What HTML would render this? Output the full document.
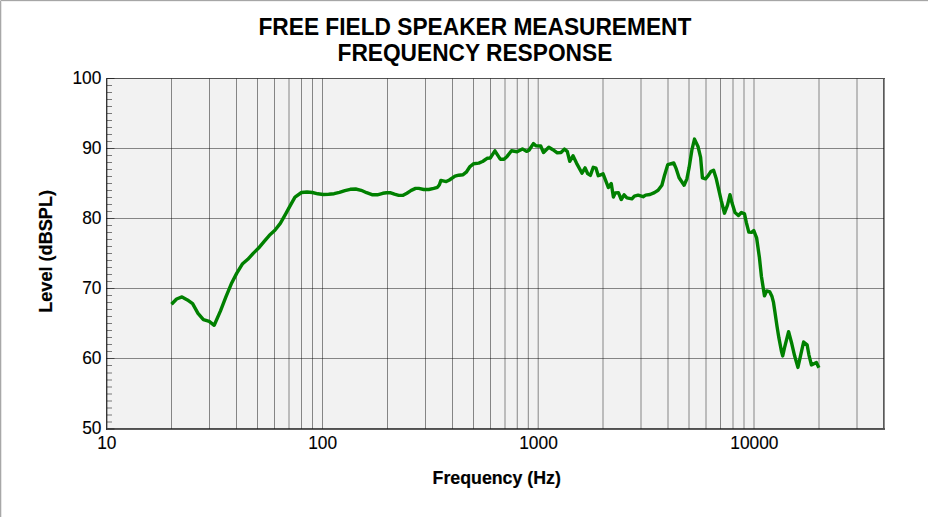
<!DOCTYPE html>
<html><head><meta charset="utf-8"><title>Free Field Speaker Measurement</title>
<style>
html,body{margin:0;padding:0;background:#fff;}
body{width:928px;height:517px;overflow:hidden;position:relative;font-family:"Liberation Sans",Arial,sans-serif;}
svg{position:absolute;left:0;top:0;display:block;}
text{font-family:"Liberation Sans",Arial,sans-serif;fill:#000;}
.t{font-weight:bold;font-size:22.67px;text-anchor:middle;}
.a{font-weight:bold;font-size:17.33px;text-anchor:middle;}
.n{font-size:17.33px;}
</style></head><body>
<svg width="928" height="517" viewBox="0 0 928 517">
<rect x="0" y="0" width="928" height="517" fill="#ffffff"/>
<rect x="0" y="0" width="928" height="1" fill="#a6a6a6"/>
<rect x="0" y="0" width="1" height="517" fill="#a8a8a8"/>
<rect x="0" y="0" width="1" height="1" fill="#d0d0d0"/>
<rect x="1" y="1" width="927" height="1" fill="#f1f1f1"/>
<rect x="1" y="1" width="1" height="516" fill="#e6e6e6"/>
<rect x="106" y="78" width="778" height="351" fill="#f2f2f2"/>
<path d="M171.50 78.50V428.80M209.50 78.50V428.80M236.50 78.50V428.80M257.50 78.50V428.80M274.50 78.50V428.80M289.00 78.50V428.80M301.50 78.50V428.80M312.50 78.50V428.80M322.50 78.50V428.80M387.50 78.50V428.80M425.50 78.50V428.80M452.50 78.50V428.80M473.50 78.50V428.80M490.50 78.50V428.80M505.00 78.50V428.80M517.25 78.50V428.80M528.30 78.50V428.80M538.20 78.50V428.80M603.00 78.50V428.80M641.00 78.50V428.80M668.00 78.50V428.80M689.00 78.50V428.80M706.00 78.50V428.80M720.50 78.50V428.80M733.00 78.50V428.80M744.00 78.50V428.80M754.00 78.50V428.80M819.00 78.50V428.80M857.00 78.50V428.80M106.50 148.50H884.00M106.50 218.50H884.00M106.50 288.50H884.00M106.50 358.50H884.00" stroke="#000" stroke-opacity="0.45" stroke-width="1" fill="none"/>
<path d="M107.00 422.00h5M107.00 415.00h5M107.00 408.00h5M107.00 401.00h5M107.00 394.00h5M107.00 387.00h5M107.00 380.00h5M107.00 373.00h5M107.00 365.50h5M107.00 351.50h5M107.00 344.50h5M107.00 337.50h5M107.00 330.50h5M107.00 323.50h5M107.00 316.50h5M107.00 309.50h5M107.00 302.50h5M107.00 295.50h5M107.00 281.50h5M107.00 274.50h5M107.00 267.50h5M107.00 260.50h5M107.00 253.50h5M107.00 246.50h5M107.00 239.50h5M107.00 232.50h5M107.00 225.50h5M107.00 211.50h5M107.00 204.50h5M107.00 197.50h5M107.00 190.50h5M107.00 183.50h5M107.00 176.50h5M107.00 169.50h5M107.00 162.50h5M107.00 155.50h5M107.00 141.50h5M107.00 134.50h5M107.00 127.50h5M107.00 120.50h5M107.00 113.50h5M107.00 106.50h5M107.00 99.50h5M107.00 92.50h5M107.00 85.50h5" stroke="#000" stroke-opacity="0.5" stroke-width="1" fill="none"/>
<path d="M106.50 429.00h8M106.50 358.50h8M106.50 288.50h8M106.50 218.50h8M106.50 148.50h8M106.50 78.50h8" stroke="#000" stroke-opacity="0.5" stroke-width="1" fill="none"/>
<rect x="106" y="78" width="779" height="1" fill="#000" fill-opacity="0.66"/>
<rect x="106" y="79" width="1" height="351" fill="#000" fill-opacity="0.78"/>
<rect x="107" y="79" width="1" height="349" fill="#000" fill-opacity="0.3"/>
<rect x="107" y="428" width="778" height="1" fill="#000" fill-opacity="0.67"/>
<rect x="107" y="429" width="778" height="1" fill="#000" fill-opacity="0.64"/>
<rect x="883" y="79" width="1" height="349" fill="#000" fill-opacity="0.63"/>
<rect x="884" y="79" width="1" height="349" fill="#000" fill-opacity="0.45"/>
<path d="M171.50 304.30 L176.60 299.00 L182.00 296.90 L187.40 299.90 L192.60 303.70 L198.00 313.40 L203.40 319.70 L209.20 321.30 L214.20 325.30 L220.50 310.90 L225.80 297.20 L231.30 283.80 L236.80 273.10 L242.30 264.05 L247.80 259.30 L253.20 253.40 L258.60 248.05 L264.00 241.55 L269.40 235.30 L274.90 230.30 L280.30 223.40 L285.70 213.90 L290.90 204.40 L295.00 197.20 L301.50 192.50 L307.00 192.00 L312.40 192.50 L317.80 193.80 L323.20 194.50 L328.60 194.20 L334.10 193.70 L339.50 192.30 L344.90 190.60 L350.30 189.30 L355.70 189.00 L361.15 190.30 L366.60 192.70 L372.00 194.70 L377.40 194.80 L382.80 193.30 L386.50 192.70 L390.00 192.60 L394.40 194.20 L398.75 195.40 L403.10 195.30 L406.90 193.20 L411.25 190.40 L415.60 188.40 L418.75 188.40 L423.75 189.50 L428.75 189.50 L433.75 188.40 L437.50 187.30 L439.40 184.80 L440.90 180.40 L446.25 181.55 L449.40 180.00 L455.00 176.20 L458.75 175.20 L463.10 174.70 L466.25 172.20 L470.00 166.55 L473.75 163.70 L478.75 163.10 L482.50 161.55 L484.00 160.50 L487.10 158.30 L490.25 158.00 L494.90 150.80 L500.25 159.20 L504.00 159.20 L507.10 156.40 L511.50 150.80 L517.10 151.70 L522.40 148.90 L526.50 151.40 L529.00 150.20 L533.40 143.60 L535.90 145.80 L540.70 146.00 L543.50 152.55 L548.80 147.20 L552.90 149.70 L557.25 152.90 L561.00 152.55 L564.40 149.10 L567.25 151.30 L569.75 161.30 L573.00 155.80 L576.50 163.10 L582.00 173.20 L585.10 167.90 L587.60 173.55 L590.40 175.40 L593.25 167.30 L596.00 168.20 L598.25 175.70 L600.00 175.10 L603.10 173.80 L608.40 187.60 L611.25 183.55 L613.40 197.00 L615.30 192.90 L618.40 192.60 L621.25 199.50 L624.10 194.80 L626.90 197.90 L631.90 198.90 L634.40 196.05 L638.10 195.10 L643.10 196.70 L645.60 195.10 L650.00 194.50 L654.40 192.60 L658.10 190.30 L661.90 185.20 L664.40 175.80 L667.80 164.55 L673.75 163.00 L676.25 168.90 L679.10 177.70 L684.10 185.20 L686.90 178.90 L689.10 167.70 L691.90 149.90 L694.50 139.10 L698.10 146.80 L700.60 157.40 L702.40 177.90 L705.50 178.80 L708.40 175.30 L710.80 171.60 L713.60 170.20 L716.10 178.20 L721.25 200.70 L724.50 213.20 L727.50 205.05 L730.00 194.70 L731.90 202.55 L735.00 212.55 L738.40 215.50 L741.40 212.50 L744.50 213.90 L746.30 222.40 L748.80 232.10 L751.60 232.40 L753.80 230.55 L756.60 237.80 L759.40 257.55 L761.40 276.30 L764.50 295.90 L766.70 290.90 L769.80 291.90 L772.00 296.55 L773.50 302.40 L775.00 312.55 L777.00 326.30 L778.90 337.90 L781.40 351.05 L782.70 355.90 L784.60 347.30 L788.60 331.70 L791.75 343.55 L794.60 355.80 L797.90 367.40 L800.40 356.30 L803.60 342.00 L807.10 344.80 L808.90 354.80 L811.40 364.90 L816.40 362.40 L818.90 367.70" fill="none" stroke="#008000" stroke-width="3.4" stroke-linejoin="round" stroke-linecap="butt"/>
<text transform="translate(474.90 35.00) scale(0.9205 1)" font-size="24.7" text-anchor="middle" font-weight="bold">FREE FIELD SPEAKER MEASUREMENT</text>
<text transform="translate(474.90 61.00) scale(0.9205 1)" font-size="24.7" text-anchor="middle" font-weight="bold">FREQUENCY RESPONSE</text>
<text transform="translate(101.40 83.70) scale(0.9630 1)" font-size="18" text-anchor="end" stroke="#000" stroke-width="0.12">100</text>
<text transform="translate(101.40 153.76) scale(0.9630 1)" font-size="18" text-anchor="end" stroke="#000" stroke-width="0.12">90</text>
<text transform="translate(101.40 223.82) scale(0.9630 1)" font-size="18" text-anchor="end" stroke="#000" stroke-width="0.12">80</text>
<text transform="translate(101.40 293.88) scale(0.9630 1)" font-size="18" text-anchor="end" stroke="#000" stroke-width="0.12">70</text>
<text transform="translate(101.40 363.94) scale(0.9630 1)" font-size="18" text-anchor="end" stroke="#000" stroke-width="0.12">60</text>
<text transform="translate(101.40 434.00) scale(0.9630 1)" font-size="18" text-anchor="end" stroke="#000" stroke-width="0.12">50</text>
<text transform="translate(106.80 449.00) scale(0.9630 1)" font-size="18" text-anchor="middle" stroke="#000" stroke-width="0.12">10</text>
<text transform="translate(322.65 449.00) scale(0.9630 1)" font-size="18" text-anchor="middle" stroke="#000" stroke-width="0.12">100</text>
<text transform="translate(538.50 449.00) scale(0.9630 1)" font-size="18" text-anchor="middle" stroke="#000" stroke-width="0.12">1000</text>
<text transform="translate(754.35 449.00) scale(0.9630 1)" font-size="18" text-anchor="middle" stroke="#000" stroke-width="0.12">10000</text>
<text transform="translate(496.70 484.00) scale(0.9400 1)" font-size="18.9" text-anchor="middle" font-weight="bold" stroke="#000" stroke-width="0.2">Frequency (Hz)</text>
<text transform="translate(52.00 251.40) rotate(-90) scale(0.9600 1)" font-size="18.9" text-anchor="middle" font-weight="bold" stroke="#000" stroke-width="0.2">Level (dBSPL)</text>
</svg>
</body></html>
